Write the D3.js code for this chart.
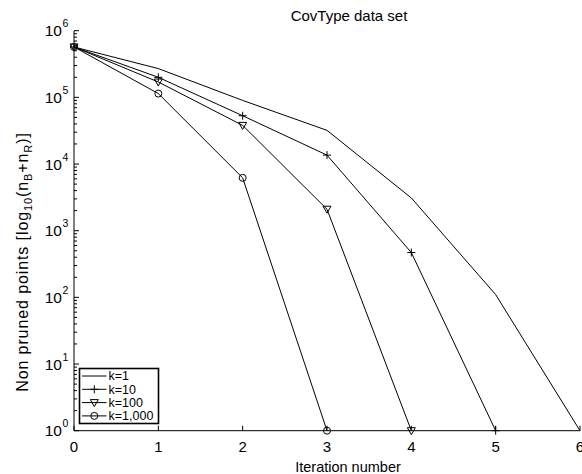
<!DOCTYPE html>
<html>
<head>
<meta charset="utf-8">
<script src="https://cdn.jsdelivr.net/npm/d3@7"></script>
<style>
  html, body { margin: 0; padding: 0; background: #fff; }
  svg { display: block; font-family: "Liberation Sans", Arial, Helvetica, sans-serif; }
</style>
</head>
<body>
<svg id="chart" width="582" height="474"></svg>
<script>
// ---- data ----
const iterations = [0, 1, 2, 3, 4, 5, 6];
const seriesNames = ["k=1", "k=10", "k=100", "k=1,000"];
const k1Values    = [570000, 270000, 90000, 32000, 3100, 110, 1];
const k10Values   = [570000, 200000, 53000, 13600, 470, 1];
const k100Values  = [570000, 170000, 38000, 2100, 1];
const k1000Values = [570000, 114000, 6200, 1];
const xTickValues = [0, 1, 2, 3, 4, 5, 6];
const yTickExponents = [0, 1, 2, 3, 4, 5, 6];
const titleText = "CovType data set";
const xLabelText = "Iteration number";

const seriesValues = [k1Values, k10Values, k100Values, k1000Values];
const markers = ["none", "plus", "tri", "circle"];

// ---- layout ----
const svg = d3.select("#chart");
const L = 74, R = 580, T = 30.7, B = 430.7;

const x = d3.scaleLinear().domain([0, 6]).range([L, R]);
const y = d3.scaleLog().domain([1, 1e6]).range([B, T]);

const g = svg.append("g");

// axes lines
g.append("line").attr("x1", L).attr("x2", L).attr("y1", T).attr("y2", B)
  .attr("stroke", "#000").attr("stroke-width", 1);
g.append("line").attr("x1", L).attr("x2", R).attr("y1", B).attr("y2", B)
  .attr("stroke", "#000").attr("stroke-width", 1);

// y major + minor ticks (inward)
const minorVals = [];
for (let e = 0; e < 6; e++) for (let m = 2; m <= 9; m++) minorVals.push(m * Math.pow(10, e));
g.selectAll(".ymin").data(minorVals).enter().append("line")
  .attr("x1", L).attr("x2", L + 3)
  .attr("y1", d => y(d)).attr("y2", d => y(d))
  .attr("stroke", "#000").attr("stroke-width", 1);
g.selectAll(".ymaj").data(yTickExponents).enter().append("line")
  .attr("x1", L).attr("x2", L + 5)
  .attr("y1", d => y(Math.pow(10, d))).attr("y2", d => y(Math.pow(10, d)))
  .attr("stroke", "#000").attr("stroke-width", 1);

// x ticks (inward)
g.selectAll(".xt").data(xTickValues).enter().append("line")
  .attr("x1", d => x(d)).attr("x2", d => x(d))
  .attr("y1", B).attr("y2", B - 5)
  .attr("stroke", "#000").attr("stroke-width", 1);

// x tick labels
g.selectAll(".xl").data(xTickValues).enter().append("text")
  .attr("x", d => x(d)).attr("y", 452)
  .attr("text-anchor", "middle").attr("font-size", 15)
  .text(d => d);

// y tick labels 10^k
g.selectAll(".yl").data(yTickExponents).enter().append("text")
  .attr("x", 62).attr("y", d => y(Math.pow(10, d)) + 5.5)
  .attr("text-anchor", "end").attr("font-size", 15.5)
  .text("10");
g.selectAll(".ys").data(yTickExponents).enter().append("text")
  .attr("x", 62.5).attr("y", d => y(Math.pow(10, d)) - 3.5)
  .attr("font-size", 10.5)
  .text(d => d);

// title
svg.append("text").attr("x", 349).attr("y", 20.5)
  .attr("text-anchor", "middle").attr("font-size", 15).text(titleText);

// x label
svg.append("text").attr("x", 348).attr("y", 471.5)
  .attr("text-anchor", "middle").attr("font-size", 14.5).text(xLabelText);

// y label
const ylab = svg.append("text")
  .attr("transform", "translate(28,262) rotate(-90)")
  .attr("text-anchor", "middle").attr("font-size", 16).attr("letter-spacing", 0.9);
ylab.append("tspan").text("Non pruned points [log");
ylab.append("tspan").attr("font-size", 11).attr("dy", 4).text("10");
ylab.append("tspan").attr("dy", -4).text("(n");
ylab.append("tspan").attr("font-size", 11).attr("dy", 4).text("B");
ylab.append("tspan").attr("dy", -4).text("+n");
ylab.append("tspan").attr("font-size", 11).attr("dy", 4).text("R");
ylab.append("tspan").attr("dy", -4).text(")]");

// lines
const line = d3.line().x((d, i) => x(iterations[i])).y(d => y(d));
seriesValues.forEach(vals => {
  g.append("path").attr("d", line(vals))
    .attr("fill", "none").attr("stroke", "#000").attr("stroke-width", 1);
});

function drawMarker(sel, type, cx, cy) {
  if (type === "plus") {
    sel.append("path").attr("d", `M${cx - 4},${cy}H${cx + 4}M${cx},${cy - 4}V${cy + 4}`)
      .attr("stroke", "#000").attr("stroke-width", 1).attr("fill", "none");
  } else if (type === "tri") {
    sel.append("path").attr("d", `M${cx - 4},${cy - 3}L${cx + 4},${cy - 3}L${cx},${cy + 4}Z`)
      .attr("stroke", "#000").attr("stroke-width", 1).attr("fill", "none");
  } else if (type === "circle") {
    sel.append("circle").attr("cx", cx).attr("cy", cy).attr("r", 3.5)
      .attr("stroke", "#000").attr("stroke-width", 1).attr("fill", "none");
  }
}
seriesValues.forEach((vals, si) => {
  vals.forEach((v, i) => drawMarker(g, markers[si], x(iterations[i]), y(v)));
});

// legend
const lg = svg.append("g");
const lgL = 79.5, lgR = 158.5, lgT = 368.5, lgB = 423.5;
lg.append("rect").attr("x", lgL).attr("y", lgT).attr("width", lgR - lgL).attr("height", lgB - lgT)
  .attr("fill", "#fff").attr("stroke", "#000").attr("stroke-width", 1.6);
seriesNames.forEach((name, i) => {
  const cy = 376 + i * 13.3;
  lg.append("line").attr("x1", 82).attr("x2", 106.5).attr("y1", cy).attr("y2", cy)
    .attr("stroke", "#000").attr("stroke-width", 1);
  drawMarker(lg, markers[i], 94.3, cy);
  lg.append("text").attr("x", 108.5).attr("y", cy + 4.3).attr("font-size", 12.5).text(name);
});
</script>
</body>
</html>
